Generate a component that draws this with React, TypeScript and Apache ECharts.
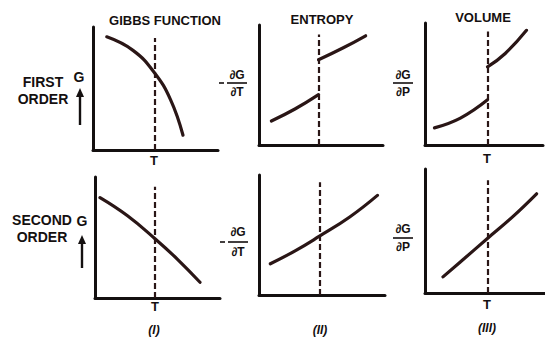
import React, { useEffect, useRef } from "react";
import * as echarts from "echarts";

// Panel titles and axis labels
const columnTitles = ["GIBBS FUNCTION", "ENTROPY", "VOLUME"];
const rowTitles = [["FIRST", "ORDER"], ["SECOND", "ORDER"]];
const columnTags = ["(I)", "(II)", "(III)"];

// Transition temperature (x position of the dashed line) per panel, 0–10 scale
const transitionT = [4.9, 4.8, 5.3, 4.8, 4.8, 5.2];
// Height reached by each dashed line
const dashTop = [9.1, 9.2, 9.3, 9.2, 9.4, 9.1];

// First order: G, entropy (two branches), volume (two branches)
const gibbsFirst = [[1.1, 9.2], [3.2, 8.1], [4.9, 6.3], [6.2, 4.1], [7.2, 1.2]];
const entropyFirstLow = [[1.0, 2.0], [2.9, 3.0], [4.8, 4.2]];
const entropyFirstHigh = [[4.8, 7.1], [6.8, 8.1], [8.6, 9.1]];
const volumeFirstLow = [[0.8, 1.4], [3.0, 2.2], [5.3, 3.7]];
const volumeFirstHigh = [[5.3, 6.4], [6.8, 7.5], [8.6, 9.4]];

// Second order: continuous curves
const gibbsSecond = [[0.4, 8.3], [2.6, 6.8], [4.8, 4.9], [6.6, 3.2], [8.4, 1.3]];
const entropySecond = [[0.9, 2.6], [2.9, 3.7], [4.8, 4.9], [7.2, 6.5], [9.4, 8.3]];
const volumeSecond = [[1.5, 1.3], [3.3, 2.8], [5.2, 4.4], [7.25, 6.1], [9.3, 8.0]];

const panelCurves: number[][][][] = [
  [gibbsFirst],
  [entropyFirstLow, entropyFirstHigh],
  [volumeFirstLow, volumeFirstHigh],
  [gibbsSecond],
  [entropySecond],
  [volumeSecond],
];

const gridBoxes = [
  { left: 93, top: 27, width: 125, height: 123 },
  { left: 259, top: 25, width: 124, height: 120 },
  { left: 425, top: 23, width: 118, height: 122 },
  { left: 95, top: 177, width: 125, height: 121 },
  { left: 259, top: 175, width: 126, height: 120 },
  { left: 425, top: 169, width: 120, height: 124 },
];

const INK = "#141010";
const CURVE = "#2a1616";
const FONT = '"Liberation Sans", Arial, sans-serif';

function txt(text: string, x: number, y: number, size: number, italic = false) {
  return {
    type: "text",
    x,
    y,
    silent: true,
    style: {
      text,
      fill: INK,
      font: `${italic ? "italic " : ""}bold ${size}px ${FONT}`,
      textAlign: "center",
      textVerticalAlign: "middle",
      align: "center",
      verticalAlign: "middle",
    },
  };
}

function hline(x1: number, x2: number, y: number, w = 1.6) {
  return {
    type: "line",
    silent: true,
    shape: { x1, y1: y, x2, y2: y },
    style: { stroke: INK, lineWidth: w },
  };
}

function arrow(x: number, tip: number, tail: number) {
  return [
    {
      type: "line",
      silent: true,
      shape: { x1: x, y1: tail, x2: x, y2: tip + 6 },
      style: { stroke: INK, lineWidth: 2.4 },
    },
    {
      type: "polygon",
      silent: true,
      shape: { points: [[x, tip], [x - 4, tip + 9], [x + 4, tip + 9]] },
      style: { fill: INK },
    },
  ];
}

function fraction(cx: number, yTop: number, yLine: number, yBot: number, num: string, den: string, minus: boolean) {
  const els: any[] = [
    txt(num, cx, yTop, 12),
    hline(cx - 10, cx + 10, yLine),
    txt(den, cx, yBot, 12),
  ];
  if (minus) els.push(hline(cx - 18, cx - 13, yLine));
  return els;
}

export default function App() {
  const ref = useRef<HTMLDivElement>(null);

  useEffect(() => {
    if (!ref.current) return;
    const chart = echarts.init(ref.current, undefined, { renderer: "svg" });

    const axisCommon = {
      type: "value",
      min: 0,
      max: 10,
      axisLine: { show: true, onZero: false, lineStyle: { color: INK, width: 3 } },
      axisTick: { show: false },
      axisLabel: { show: false },
      splitLine: { show: false },
    };

    const series: any[] = [];
    panelCurves.forEach((curves, i) => {
      curves.forEach((pts, j) => {
        series.push({
          type: "line",
          xAxisIndex: i,
          yAxisIndex: i,
          data: pts,
          smooth: 0.45,
          symbol: "none",
          lineStyle: { color: CURVE, width: 3.2, cap: "round" },
          silent: true,
          markLine:
            j === 0
              ? {
                  symbol: "none",
                  silent: true,
                  label: { show: false },
                  lineStyle: { color: CURVE, width: 2.2, type: [6, 3] },
                  data: [[{ coord: [transitionT[i], 0] }, { coord: [transitionT[i], dashTop[i]] }]],
                }
              : undefined,
        });
      });
    });

    const graphics: any[] = [
      txt(columnTitles[0], 165, 20, 13),
      txt(columnTitles[1], 322, 19, 13),
      txt(columnTitles[2], 483, 17, 13),
      txt(rowTitles[0][0], 43, 82, 14),
      txt(rowTitles[0][1], 43, 99, 14),
      txt(rowTitles[1][0], 42, 220, 14),
      txt(rowTitles[1][1], 42, 237, 14),
      txt("G", 79, 77, 14),
      txt("G", 82, 221, 14),
      ...arrow(80, 88, 125),
      ...arrow(82, 235, 268),
      txt("T", 154, 160, 13),
      txt("T", 487, 158, 13),
      txt("T", 155, 306, 13),
      txt("T", 487, 304, 13),
      txt(columnTags[0], 154, 330, 12, true),
      txt(columnTags[1], 320, 330, 12, true),
      txt(columnTags[2], 487, 328, 12, true),
      ...fraction(237, 75, 83, 92, "∂G", "∂T", true),
      ...fraction(238, 232, 242, 252, "∂G", "∂T", true),
      ...fraction(403, 75, 83, 92, "∂G", "∂P", false),
      ...fraction(403, 229, 238, 247, "∂G", "∂P", false),
    ];

    chart.setOption({
      animation: false,
      backgroundColor: "#ffffff",
      grid: gridBoxes.map((g) => ({ ...g, containLabel: false })),
      xAxis: gridBoxes.map((_, i) => ({ ...axisCommon, gridIndex: i })),
      yAxis: gridBoxes.map((_, i) => ({ ...axisCommon, gridIndex: i })),
      series,
      graphic: graphics,
    });

    return () => chart.dispose();
  }, []);

  return (
    <div
      ref={ref}
      style={{ position: "fixed", left: 0, top: 0, width: 545, height: 337, background: "#fff" }}
    />
  );
}
